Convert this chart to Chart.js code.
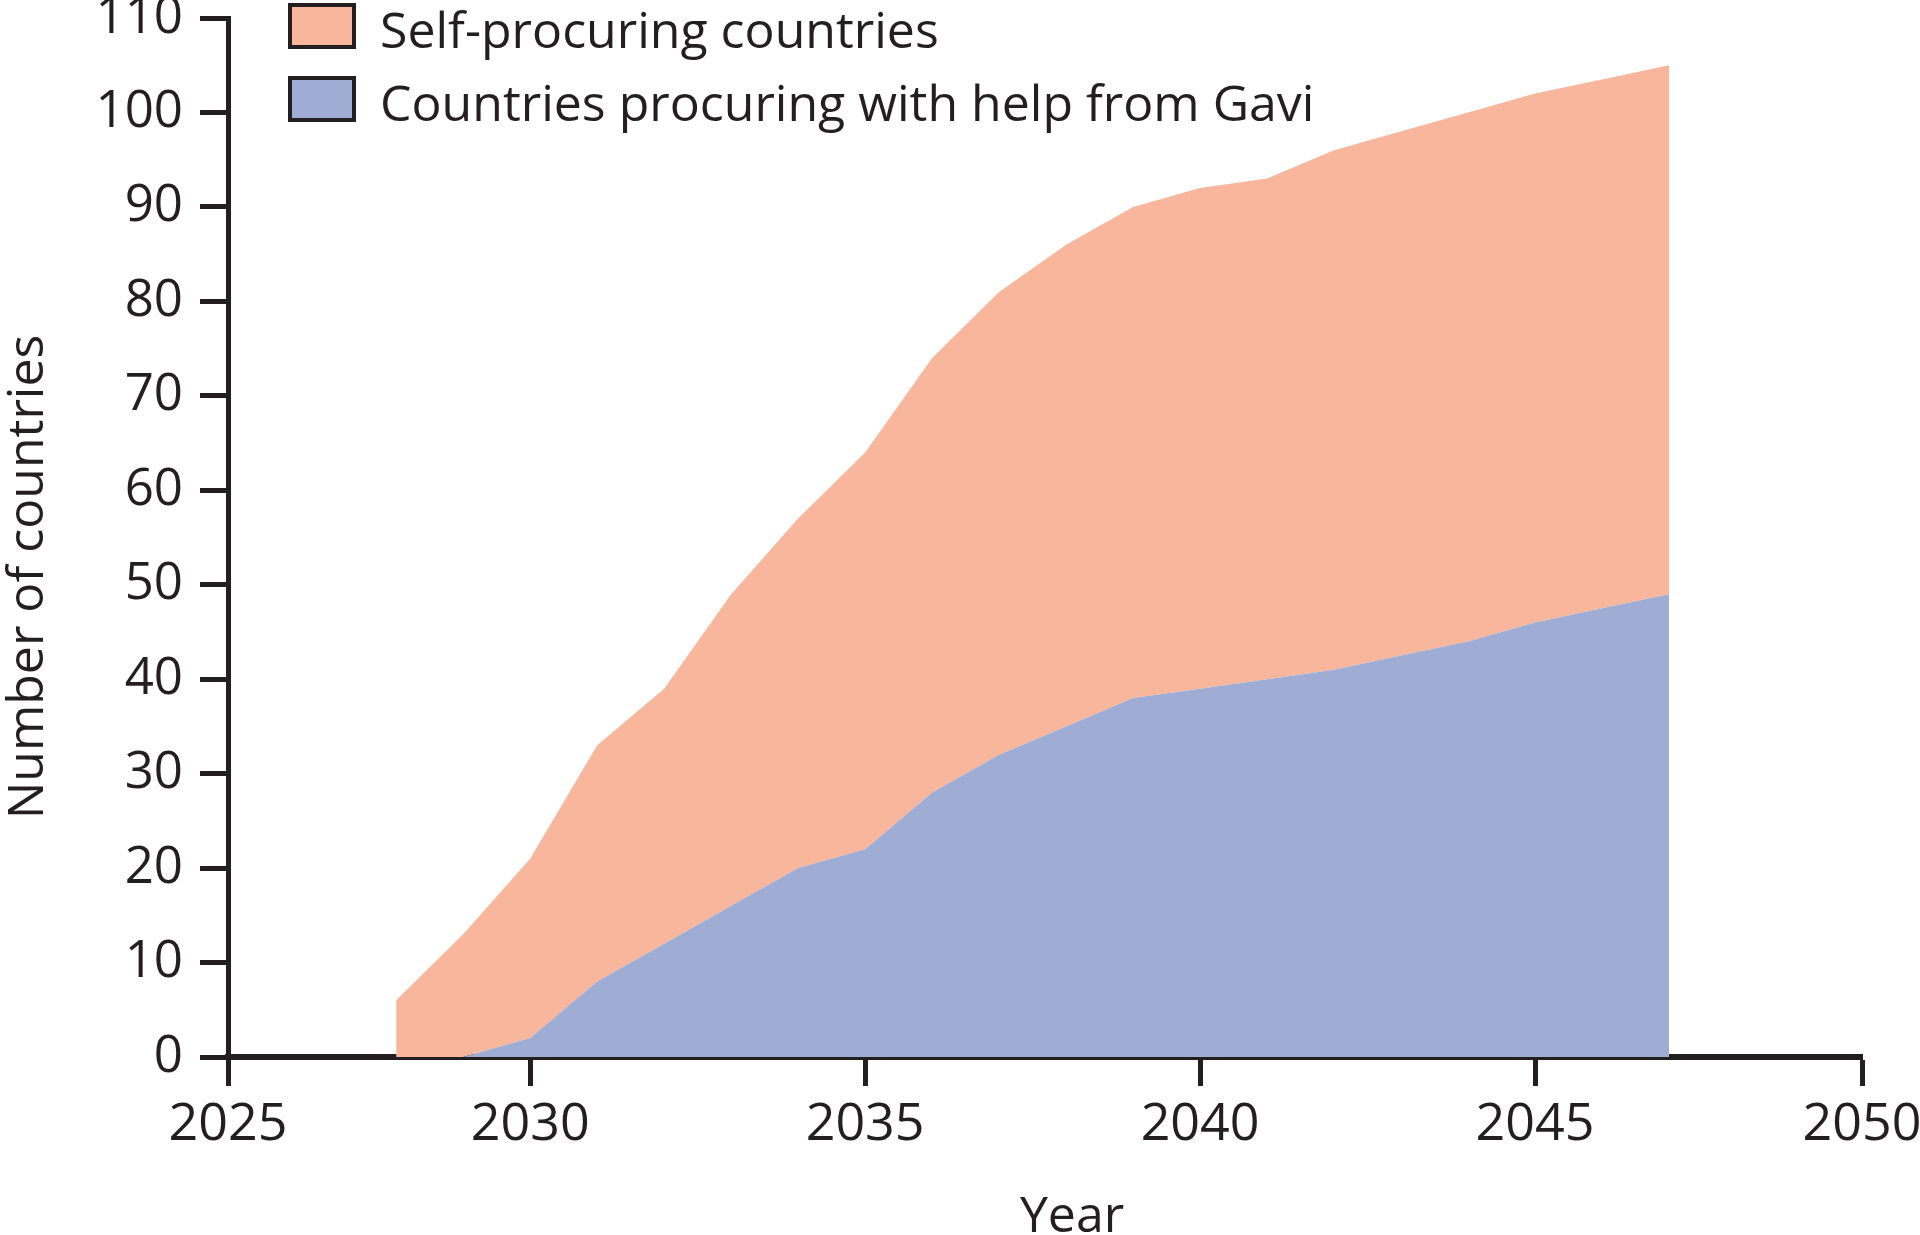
<!DOCTYPE html>
<html>
<head>
<meta charset="utf-8">
<script src="https://cdn.jsdelivr.net/npm/chart.js@4.4.1/dist/chart.umd.min.js"></script>
<style>
  html, body { margin: 0; padding: 0; background: #fff; }
  #wrap { width: 1920px; height: 1235px; position: relative; }
</style>
</head>
<body>
<div id="wrap"><canvas id="chart"></canvas></div>
<script>
// Values (number of countries per year)
const years = [2028, 2029, 2030, 2031, 2032, 2033, 2034, 2035, 2036, 2037,
               2038, 2039, 2040, 2041, 2042, 2043, 2044, 2045, 2046, 2047];
const gaviCountries = [0, 0, 2, 8, 12, 16, 20, 22, 28, 32,
                       35, 38, 39, 40, 41, 42.5, 44, 46, 47.5, 49];
const selfCountries = [6, 13, 19, 25, 27, 33, 37, 42, 46, 49,
                       51, 52, 53, 53, 55, 55.5, 56, 56, 56, 56];

const xTickYears = [2025, 2030, 2035, 2040, 2045, 2050];
// the original axis runs from just after 2025 to just before 2050,
// but labels its end ticks 2025 and 2050
const X_MIN = 2025.49;
const X_MAX = 2049.88;

const INK = '#231f20';
const ORANGE = '#f8b69c';
const BLUE = '#9fadd5';
const FONT = '"Open Sans", "Noto Sans", sans-serif';

const toPoints = (vals) => years.map((y, i) => ({ x: y, y: vals[i] }));

// Legend inside the plot area plus the two axis titles, placed as in the reference
const annotations = {
  id: 'annotations',
  afterDraw(chart) {
    const ctx = chart.ctx;
    const items = [chart.data.datasets[1], chart.data.datasets[0]];
    ctx.save();
    ctx.font = '50px ' + FONT;
    ctx.textAlign = 'left';
    ctx.textBaseline = 'alphabetic';
    items.forEach((ds, i) => {
      const top = 5 + i * 73;
      ctx.fillStyle = ds.backgroundColor;
      ctx.fillRect(290, top, 64, 42);
      ctx.lineWidth = 4;
      ctx.strokeStyle = INK;
      ctx.strokeRect(290, top, 64, 42);
      ctx.fillStyle = INK;
      ctx.fillText(ds.label, 380, top + 43);
    });

    // x axis title
    ctx.textAlign = 'center';
    ctx.fillText('Year', 1072, 1232);

    // y axis title, rotated
    ctx.translate(43, 577);
    ctx.rotate(-Math.PI / 2);
    ctx.fillText('Number of countries', 0, 0);
    ctx.restore();
  }
};

new Chart(document.getElementById('chart'), {
  type: 'line',
  data: {
    datasets: [
      {
        label: 'Countries procuring with help from Gavi',
        data: toPoints(gaviCountries),
        backgroundColor: BLUE,
        borderWidth: 0,
        pointRadius: 0,
        fill: 'origin',
        tension: 0,
      },
      {
        label: 'Self-procuring countries',
        data: toPoints(selfCountries),
        backgroundColor: ORANGE,
        borderWidth: 0,
        pointRadius: 0,
        fill: '-1',
        tension: 0,
      },
    ],
  },
  options: {
    responsive: true,
    maintainAspectRatio: false,
    animation: false,
    layout: { padding: { top: 18, right: 58, left: 0, bottom: 0 } },
    plugins: {
      legend: { display: false },
      tooltip: { enabled: false },
    },
    scales: {
      x: {
        type: 'linear',
        min: X_MIN,
        max: X_MAX,
        afterBuildTicks: (axis) => {
          axis.ticks = xTickYears.map((y) => ({ value: Math.min(Math.max(y, X_MIN), X_MAX) }));
        },
        afterFit: (axis) => {
          axis.height = 178;
          axis.paddingRight = 0;
          axis.paddingLeft = 0;
        },
        border: { display: true, color: INK, width: 6 },
        grid: { drawOnChartArea: false, drawTicks: true, tickLength: 29, tickWidth: 5, tickColor: INK },
        ticks: {
          autoSkip: false,
          maxRotation: 0,
          padding: 8,
          color: INK,
          font: { family: FONT, size: 52 },
          callback: (v, i) => String(xTickYears[i]),
        },
      },
      y: {
        stacked: true,
        min: 0,
        max: 110,
        afterFit: (axis) => {
          axis.width = 228;
          axis.paddingTop = 0;
          axis.paddingBottom = 0;
        },
        border: { display: true, color: INK, width: 5 },
        grid: { drawOnChartArea: false, drawTicks: true, tickLength: 28, tickWidth: 5, tickColor: INK },
        ticks: {
          stepSize: 10,
          padding: 17,
          color: INK,
          font: { family: FONT, size: 51 },
        },
      },
    },
  },
  plugins: [annotations],
});
</script>
</body>
</html>
